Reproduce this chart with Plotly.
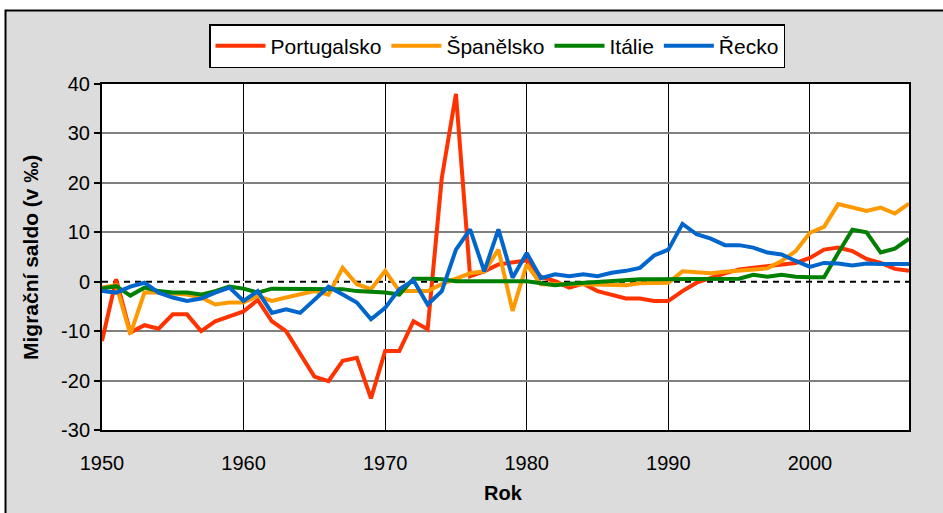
import plotly.graph_objects as go

years = list(range(1950, 2008))

portugalsko = [-12.0, 0.5, -10.3, -8.8, -9.5, -6.6, -6.6, -10.0, -8.0, -7.0,
               -6.0, -3.7, -8.0, -10.0, -14.7, -19.2, -20.1, -16.0, -15.4, -23.6,
               -14.0, -14.0, -8.0, -9.6, 21.0, 38.0, 1.1, 2.1, 3.5, 4.0,
               4.3, 1.0, 0.1, -1.2, -0.4, -1.9, -2.6, -3.4, -3.4, -3.9,
               -3.9, -1.9, -0.2, 0.8, 1.7, 2.5, 2.8, 3.0, 3.5, 3.8,
               4.8, 6.5, 6.9, 6.2, 4.6, 3.8, 2.6, 2.2]

spanelsko = [-1.2, -0.7, -10.6, -2.2, -2.2, -2.4, -2.6, -3.2, -4.6, -4.2,
             -4.2, -2.9, -3.9, -3.2, -2.6, -1.9, -2.6, 2.8, -0.5, -1.5,
             2.2, -1.9, -1.9, -1.9, -0.5, 0.6, 1.7, 2.1, 6.5, -5.9,
             3.5, -0.5, -0.6, -0.5, -0.5, -0.6, -0.7, -0.7, -0.3, -0.2,
             -0.2, 2.1, 1.8, 1.7, 2.0, 2.3, 2.5, 2.7, 4.2, 6.2,
             9.9, 11.1, 15.7, 15.0, 14.3, 15.0, 13.8, 15.8]

italie = [-1.4, -0.9, -2.8, -1.2, -1.9, -2.2, -2.2, -2.6, -1.9, -1.0,
          -1.4, -2.2, -1.4, -1.4, -1.4, -1.4, -1.5, -1.5, -1.9, -2.0,
          -2.2, -2.6, 0.6, 0.6, 0.5, 0.1, 0.1, 0.1, 0.1, 0.1,
          0.1, -0.3, -0.7, -0.4, -0.2, -0.1, 0.1, 0.3, 0.5, 0.5,
          0.5, 0.6, 0.6, 0.6, 0.6, 0.6, 1.4, 1.0, 1.4, 1.0,
          0.9, 0.9, 5.8, 10.5, 10.0, 5.9, 6.7, 8.7]

recko = [-1.9, -2.2, -1.0, -0.2, -2.2, -3.2, -3.9, -3.4, -2.2, -1.2,
         -3.9, -1.9, -6.3, -5.6, -6.3, -3.6, -1.0, -2.6, -4.2, -7.6,
         -5.3, -1.5, 0.3, -4.6, -1.9, 6.5, 10.6, 2.1, 10.6, 0.8,
         5.8, 0.7, 1.5, 1.1, 1.5, 1.1, 1.8, 2.2, 2.8, 5.3,
         6.5, 11.7, 9.6, 8.7, 7.4, 7.4, 6.9, 5.9, 5.5, 4.2,
         3.0, 3.8, 3.7, 3.3, 3.7, 3.6, 3.6, 3.6]

series = [
    ("Portugalsko", portugalsko, "#FF3300"),
    ("Španělsko", spanelsko, "#FF9900"),
    ("Itálie", italie, "#008000"),
    ("Řecko", recko, "#0066CC"),
]

x_ticks = [1950, 1960, 1970, 1980, 1990, 2000]
y_ticks = [-30, -20, -10, 0, 10, 20, 30, 40]
x_range = [1950, 2007]

FONT = "Liberation Sans, Arial, sans-serif"

fig = go.Figure()
# dashed horizontal axis line at zero (Excel style), drawn beneath the series
fig.add_trace(go.Scatter(x=x_range, y=[0, 0], mode="lines", showlegend=False,
                         hoverinfo="skip",
                         line=dict(color="black", width=2, dash="6px,5px")))
for name, vals, col in series:
    fig.add_trace(go.Scatter(x=years, y=vals, mode="lines", name=name,
                             line=dict(color=col, width=4)))

W, H = 943, 513
L, R, T, B = 102, 34, 84, 83
pw, ph = W - L - R, H - T - B

def px(xp):
    return (xp - L) / pw

def py(yp):
    return (H - B - yp) / ph

shapes = [
    # white strips outside the grey chart frame
    dict(type="rect", xref="paper", yref="paper", x0=px(-5), x1=px(W + 5),
         y0=py(10), y1=py(-5), fillcolor="white", line=dict(width=0), layer="below"),
    dict(type="rect", xref="paper", yref="paper", x0=px(-5), x1=px(5),
         y0=py(H + 5), y1=py(-5), fillcolor="white", line=dict(width=0), layer="below"),
    # chart frame border
    dict(type="rect", xref="paper", yref="paper", x0=px(5.5), x1=px(W + 10),
         y0=py(H + 10), y1=py(10.5), line=dict(color="black", width=2),
         fillcolor="rgba(0,0,0,0)", layer="below"),
]

fig.update_layout(
    width=W, height=H,
    margin=dict(l=L, r=R, t=T, b=B, pad=0),
    paper_bgcolor="#DCDCDC",
    plot_bgcolor="white",
    font=dict(family=FONT, color="black"),
    showlegend=True,
    legend=dict(orientation="h", x=px(209), y=py(24), xanchor="left", yanchor="top",
                bgcolor="white", bordercolor="black", borderwidth=1.5,
                font=dict(size=21, family=FONT), itemwidth=50, traceorder="normal"),
    shapes=shapes,
    annotations=[
        dict(text="<b>Migrační saldo (v ‰)</b>", xref="paper", yref="paper",
             x=px(30), y=py(258), textangle=-90, showarrow=False,
             font=dict(size=21, family=FONT), xanchor="center", yanchor="middle"),
        dict(text="<b>Rok</b>", xref="paper", yref="paper",
             x=px(503), y=py(493), showarrow=False,
             font=dict(size=20, family=FONT), xanchor="center", yanchor="middle"),
    ],
)

fig.update_xaxes(range=x_range, tickvals=x_ticks, ticktext=[str(v) for v in x_ticks],
                 showgrid=True, gridcolor="black", gridwidth=1,
                 showline=True, linecolor="black", linewidth=2, mirror=True,
                 ticks="", ticklabelstandoff=14,
                 tickfont=dict(size=20, family=FONT), zeroline=False)
fig.update_yaxes(range=[-30, 40], tickvals=y_ticks, ticktext=[str(v) for v in y_ticks],
                 showgrid=True, gridcolor="#808080", gridwidth=1.5,
                 zeroline=True, zerolinecolor="white", zerolinewidth=2,
                 showline=True, linecolor="black", linewidth=2, mirror=True,
                 ticks="outside", ticklen=6, tickcolor="black", tickwidth=1.5,
                 tickfont=dict(size=20, family=FONT))

fig.write_html("out.html", config={"displayModeBar": False},
               post_script="document.body.style.margin='0';")
